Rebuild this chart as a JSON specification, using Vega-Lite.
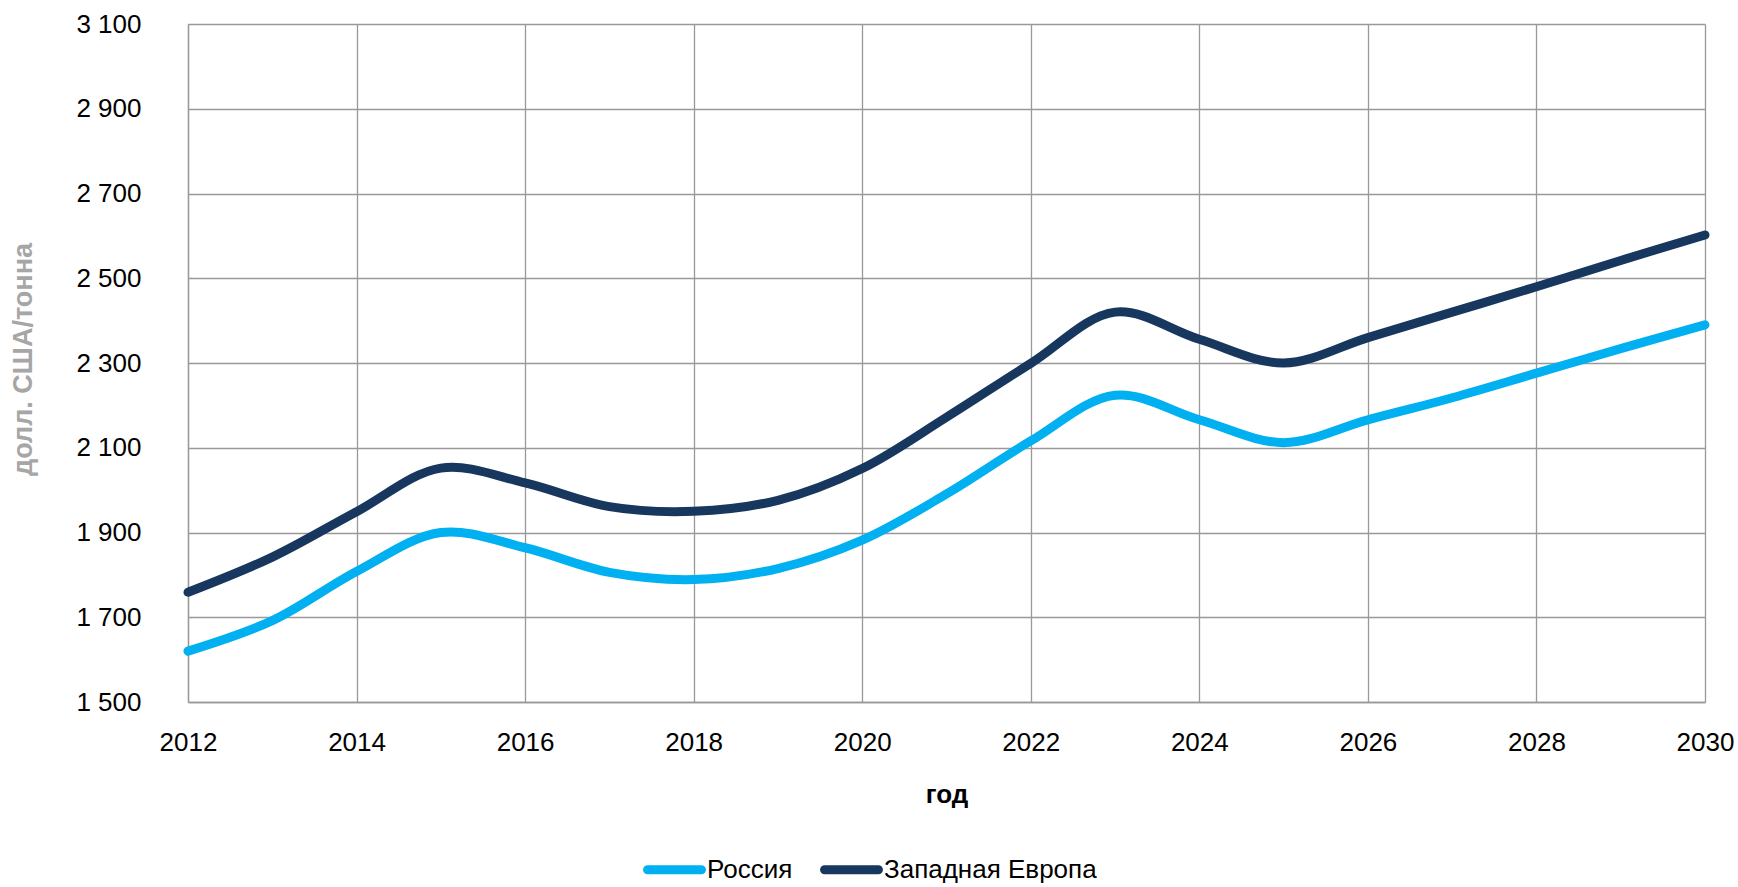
{
  "$schema": "https://vega.github.io/schema/vega-lite/v6.json",
  "width": 1517,
  "height": 678,
  "autosize": {"type": "none"},
  "padding": {"left": 188, "top": 24, "right": 33, "bottom": 185},
  "background": "white",
  "config": {
    "font": "Liberation Sans",
    "view": {"stroke": null},
    "axis": {
      "gridColor": "#999999",
      "gridWidth": 1.3,
      "domainColor": "#999999",
      "domainWidth": 1.3,
      "ticks": false,
      "labelFont": "Liberation Sans",
      "labelFontSize": 26,
      "labelColor": "#000000",
      "titleFont": "Liberation Sans",
      "titleFontSize": 26,
      "titleFontWeight": "bold"
    }
  },
  "data": {
    "values": [
      {"year": 2012, "series": "Россия", "price": 1620},
      {"year": 2013, "series": "Россия", "price": 1692},
      {"year": 2014, "series": "Россия", "price": 1808},
      {"year": 2015, "series": "Россия", "price": 1900},
      {"year": 2016, "series": "Россия", "price": 1864},
      {"year": 2017, "series": "Россия", "price": 1806},
      {"year": 2018, "series": "Россия", "price": 1789},
      {"year": 2019, "series": "Россия", "price": 1815},
      {"year": 2020, "series": "Россия", "price": 1882},
      {"year": 2021, "series": "Россия", "price": 1991},
      {"year": 2022, "series": "Россия", "price": 2116},
      {"year": 2023, "series": "Россия", "price": 2224},
      {"year": 2024, "series": "Россия", "price": 2166},
      {"year": 2025, "series": "Россия", "price": 2112},
      {"year": 2026, "series": "Россия", "price": 2166},
      {"year": 2027, "series": "Россия", "price": 2218},
      {"year": 2028, "series": "Россия", "price": 2276},
      {"year": 2029, "series": "Россия", "price": 2334},
      {"year": 2030, "series": "Россия", "price": 2390},
      {"year": 2012, "series": "Западная Европа", "price": 1759},
      {"year": 2013, "series": "Западная Европа", "price": 1842},
      {"year": 2014, "series": "Западная Европа", "price": 1949},
      {"year": 2015, "series": "Западная Европа", "price": 2052},
      {"year": 2016, "series": "Западная Европа", "price": 2017},
      {"year": 2017, "series": "Западная Европа", "price": 1961},
      {"year": 2018, "series": "Западная Европа", "price": 1950},
      {"year": 2019, "series": "Западная Европа", "price": 1976},
      {"year": 2020, "series": "Западная Европа", "price": 2051},
      {"year": 2021, "series": "Западная Европа", "price": 2172},
      {"year": 2022, "series": "Западная Европа", "price": 2299},
      {"year": 2023, "series": "Западная Европа", "price": 2420},
      {"year": 2024, "series": "Западная Европа", "price": 2356},
      {"year": 2025, "series": "Западная Европа", "price": 2300},
      {"year": 2026, "series": "Западная Европа", "price": 2360},
      {"year": 2027, "series": "Западная Европа", "price": 2420},
      {"year": 2028, "series": "Западная Европа", "price": 2480},
      {"year": 2029, "series": "Западная Европа", "price": 2542},
      {"year": 2030, "series": "Западная Европа", "price": 2602}
    ]
  },
  "mark": {"type": "line", "interpolate": "catmull-rom", "strokeWidth": 9, "strokeCap": "round", "strokeJoin": "round"},
  "encoding": {
    "x": {
      "field": "year",
      "type": "quantitative",
      "scale": {"domain": [2012, 2030], "nice": false, "zero": false},
      "axis": {
        "title": "год",
        "values": [2012, 2014, 2016, 2018, 2020, 2022, 2024, 2026, 2028, 2030],
        "format": "d",
        "labelPadding": 27,
        "labelFlush": false,
        "titleY": 100,
        "titleBaseline": "alphabetic",
        "titleColor": "#000000"
      }
    },
    "y": {
      "field": "price",
      "type": "quantitative",
      "scale": {"domain": [1500, 3100], "nice": false, "zero": false},
      "axis": {
        "title": "долл. США/тонна",
        "titleFontSize": 27,
        "values": [1500, 1700, 1900, 2100, 2300, 2500, 2700, 2900, 3100],
        "labelExpr": "replace(format(datum.value, ','), ',', ' ')",
        "labelPadding": 47,
        "titleColor": "#A6A6A6",
        "titleX": -157,
        "titleY": 335,
        "titleBaseline": "alphabetic",
        "titleAngle": 270
      }
    },
    "color": {
      "field": "series",
      "type": "nominal",
      "sort": ["Россия", "Западная Европа"],
      "scale": {"domain": ["Россия", "Западная Европа"], "range": ["#00B0F0", "#17375E"]},
      "legend": {
        "title": null,
        "orient": "none",
        "direction": "horizontal",
        "legendX": 455,
        "legendY": 814,
        "padding": 0,
        "symbolType": "stroke",
        "symbolSize": 2900,
        "symbolStrokeWidth": 9,
        "labelFont": "Liberation Sans",
        "labelFontSize": 26,
        "labelLimit": 500,
        "labelColor": "#000000",
        "labelOffset": 1,
        "columnPadding": 13,
        "encode": {"symbols": {"update": {"strokeCap": {"value": "round"}}}}
      }
    }
  }
}
